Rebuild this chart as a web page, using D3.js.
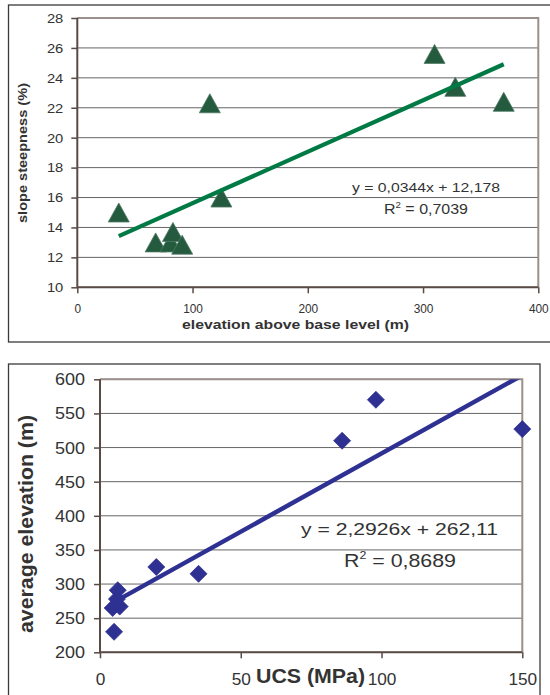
<!DOCTYPE html>
<html>
<head>
<meta charset="utf-8">
<script src="https://cdn.jsdelivr.net/npm/d3@7"></script>
<style>
  body { margin: 0; background: #fff; }
  svg { display: block; font-family: "Liberation Sans", Arial, sans-serif; }
  .tick text { fill: #333; }
  .domain { display: none; }
</style>
</head>
<body>
<div id="chart"></div>
<script>
// top chart: slope steepness vs elevation above base level
var elevation = [36, 68, 81, 83, 91, 115, 125, 310, 328, 370];
var steepness = [15.0, 13.0, 13.0, 13.7, 12.85, 22.3, 16.0, 25.6, 23.4, 22.4];
var topXTicks = [0, 100, 200, 300, 400];
var topYTicks = [10, 12, 14, 16, 18, 20, 22, 24, 26, 28];
var topFit = [0.0344, 12.178]; // slope, intercept

// bottom chart: average elevation vs UCS
var ucs = [5, 4.5, 6, 7, 6.3, 20, 35, 86, 98, 150];
var avgElev = [230, 265, 278, 267, 291, 325, 315, 510, 570, 527];
var botXTicks = [0, 50, 100, 150];
var botYTicks = [200, 250, 300, 350, 400, 450, 500, 550, 600];
var botFit = [2.2926, 262.11];

var svg = d3.select("#chart").append("svg")
  .attr("width", 550)
  .attr("height", 695);

// outer frames
svg.append("rect")
  .attr("x", 8.5).attr("y", 5).attr("width", 560).attr("height", 337)
  .attr("fill", "none").attr("stroke", "#3a3a3a").attr("stroke-width", 1.3);
svg.append("rect")
  .attr("x", 8.5).attr("y", 364).attr("width", 531.5).attr("height", 360)
  .attr("fill", "none").attr("stroke", "#3a3a3a").attr("stroke-width", 1.3);

function drawPlot(opt) {
  var x = opt.x, y = opt.y;
  var x0 = x.range()[0], x1 = x.range()[1];
  var y0 = y.range()[1], y1 = y.range()[0];
  var g = svg.append("g");

  // gridlines
  g.selectAll("line.grid")
    .data(opt.yTicks)
    .enter()
    .append("line")
    .attr("x1", x0).attr("x2", x1)
    .attr("y1", d => y(d)).attr("y2", d => y(d))
    .attr("stroke", "#666").attr("stroke-width", 1);

  // plot area border (top + right)
  g.append("path")
    .attr("d", `M${x0},${y0}H${x1}V${y1}`)
    .attr("fill", "none").attr("stroke", "#9a8f8a").attr("stroke-width", 2);

  // axes
  var yAxis = g.append("g")
    .attr("transform", `translate(${x0},0)`)
    .call(d3.axisLeft(y).tickValues(opt.yTicks).tickSize(6).tickPadding(opt.yPad));
  yAxis.selectAll("text").attr("font-size", opt.tickFont)
    .attr("textLength", d => String(d).length * opt.yDigitW)
    .attr("lengthAdjust", "spacingAndGlyphs");

  var xAxis = g.append("g")
    .attr("transform", `translate(0,${y1})`)
    .call(d3.axisBottom(x).tickValues(opt.xTicks).tickSize(6).tickPadding(opt.xPad));
  xAxis.selectAll("text").attr("font-size", opt.tickFont)
    .attr("textLength", d => String(d).length * opt.digitW)
    .attr("lengthAdjust", "spacingAndGlyphs");

  g.selectAll(".tick line").attr("stroke", "#5a4a44").attr("stroke-width", 1.5);

  g.append("path")
    .attr("d", `M${x0},${y0}V${y1}H${x1}`)
    .attr("fill", "none").attr("stroke", "#5a4a44").attr("stroke-width", 2);

  // clip for trendline
  var clipId = "clip" + opt.id;
  svg.append("clipPath").attr("id", clipId)
    .append("rect")
    .attr("x", x0).attr("y", y0).attr("width", x1 - x0).attr("height", y1 - y0);

  var xs = d3.extent(opt.xs);
  var line = d3.line().x(d => x(d)).y(d => y(opt.fit[0] * d + opt.fit[1]));

  var points = opt.xs.map((d, i) => [d, opt.ys[i]]);

  if (opt.lineFirst) {
    drawLine();
    drawMarkers();
  } else {
    drawMarkers();
    drawLine();
  }

  function drawLine() {
    g.append("path")
      .datum(xs)
      .attr("clip-path", `url(#${clipId})`)
      .attr("d", line)
      .attr("fill", "none")
      .attr("stroke", opt.lineColor)
      .attr("stroke-width", opt.lineWidth);
  }

  function drawMarkers() {
    g.selectAll("path.mark")
      .data(points)
      .enter()
      .append("path")
      .attr("class", "mark")
      .attr("transform", d => `translate(${x(d[0])},${y(d[1])})`)
      .attr("d", opt.marker)
      .attr("fill", opt.markColor)
      .attr("stroke", opt.markStroke)
      .attr("stroke-width", 0.8);
  }
  return g;
}

// top chart
var xTop = d3.scaleLinear().domain([0, 400]).range([77.3, 538.3]);
var yTop = d3.scaleLinear().domain([10, 28]).range([287.3, 18]);
drawPlot({
  id: "top", x: xTop, y: yTop, xTicks: topXTicks, yTicks: topYTicks,
  xs: elevation, ys: steepness, fit: topFit,
  yPad: 8, xPad: 10, tickFont: 13.5, digitW: 6.6, yDigitW: 8.2,
  lineColor: "#007a45", lineWidth: 4.2, markColor: "#245a3e", markStroke: "#4e7a63",
  marker: "M0,-9.5L10.5,9.5L-10.5,9.5Z", lineFirst: false
});

svg.append("text")
  .attr("x", 182).attr("y", 329)
  .attr("font-size", 13).attr("font-weight", "bold").attr("fill", "#333")
  .attr("textLength", 227).attr("lengthAdjust", "spacingAndGlyphs")
  .text("elevation above base level (m)");

svg.append("text")
  .attr("transform", "translate(27,153) rotate(-90)")
  .attr("text-anchor", "middle")
  .attr("font-size", 12.5).attr("font-weight", "bold").attr("fill", "#333")
  .attr("textLength", 140).attr("lengthAdjust", "spacingAndGlyphs")
  .text("slope steepness (%)");

svg.append("text")
  .attr("x", 352).attr("y", 191.5)
  .attr("font-size", 12).attr("fill", "#333")
  .attr("textLength", 148).attr("lengthAdjust", "spacingAndGlyphs")
  .text("y = 0,0344x + 12,178");

var r1 = svg.append("text")
  .attr("x", 384).attr("y", 214)
  .attr("font-size", 14).attr("fill", "#333")
  .attr("textLength", 84).attr("lengthAdjust", "spacingAndGlyphs");
r1.append("tspan").text("R");
r1.append("tspan").attr("dy", -6).attr("font-size", 8.5).text("2");
r1.append("tspan").attr("dy", 6).text(" = 0,7039");

// bottom chart
var xBot = d3.scaleLinear().domain([0, 150]).range([100, 522.3]);
var yBot = d3.scaleLinear().domain([200, 600]).range([652.3, 379.3]);
drawPlot({
  id: "bot", x: xBot, y: yBot, xTicks: botXTicks, yTicks: botYTicks,
  xs: ucs, ys: avgElev, fit: botFit,
  yPad: 9, xPad: 15, tickFont: 17, digitW: 9.6, yDigitW: 10,
  lineColor: "#2e3192", lineWidth: 4.5, markColor: "#2e3192", markStroke: "#2e3192",
  marker: "M0,-8.5L8.5,0L0,8.5L-8.5,0Z", lineFirst: true
});

svg.append("text")
  .attr("x", 256).attr("y", 683)
  .attr("font-size", 20).attr("font-weight", "bold").attr("fill", "#333")
  .attr("textLength", 109).attr("lengthAdjust", "spacingAndGlyphs")
  .text("UCS (MPa)");

svg.append("text")
  .attr("transform", "translate(33,524) rotate(-90)")
  .attr("text-anchor", "middle")
  .attr("font-size", 20).attr("font-weight", "bold").attr("fill", "#333")
  .attr("textLength", 218).attr("lengthAdjust", "spacingAndGlyphs")
  .text("average elevation (m)");

svg.append("text")
  .attr("x", 301).attr("y", 535)
  .attr("font-size", 17).attr("fill", "#333")
  .attr("textLength", 197).attr("lengthAdjust", "spacingAndGlyphs")
  .text("y = 2,2926x + 262,11");

var r2 = svg.append("text")
  .attr("x", 344).attr("y", 566.5)
  .attr("font-size", 19).attr("fill", "#333")
  .attr("textLength", 112).attr("lengthAdjust", "spacingAndGlyphs");
r2.append("tspan").text("R");
r2.append("tspan").attr("dy", -8).attr("font-size", 11).text("2");
r2.append("tspan").attr("dy", 8).text(" = 0,8689");
</script>
</body>
</html>
